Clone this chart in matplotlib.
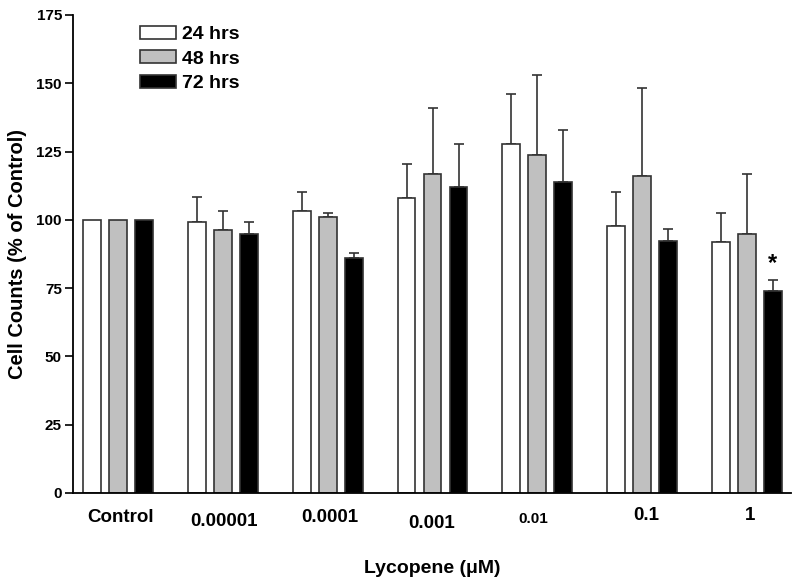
import matplotlib
matplotlib.use("Agg")
import matplotlib.pyplot as plt
from matplotlib.patches import Patch
import numpy as np

plt.rcParams['font.family'] = ['Liberation Sans', 'DejaVu Sans']
plt.rcParams['font.weight'] = 'bold'

categories = ["Control", "0.00001", "0.0001", "0.001", "0.01", "0.1", "1"]
series_names = ["24 hrs", "48 hrs", "72 hrs"]
vals_24 = [100, 99.3, 103.3, 107.9, 127.6, 97.6, 91.8]
err_24 = [0, 9.1, 6.8, 12.4, 18.6, 12.5, 10.8]
vals_48 = [100, 96.3, 101.0, 116.7, 123.9, 116.1, 94.8]
err_48 = [0, 7.0, 1.6, 24.2, 29.2, 32.1, 22.0]
vals_72 = [100, 95.0, 86.1, 112.1, 114.0, 92.2, 74.0]
err_72 = [0, 4.3, 1.8, 15.6, 18.8, 4.6, 3.9]
ytick_vals = [0, 25, 50, 75, 100, 125, 150, 175]

fills = ["white", "#c0c0c0", "black"]
W, H = 800, 581
fig = plt.figure(figsize=(W / 100, H / 100), dpi=100)
ax = fig.add_axes([73 / W, (H - 493) / H, (791 - 73) / W, (493 - 15) / H])

x = np.arange(len(categories))
width = 0.171
step = 0.248
for i, (v, e) in enumerate([(vals_24, err_24), (vals_48, err_48), (vals_72, err_72)]):
    pos = x + (i - 1) * step
    ax.bar(pos, v, width=width, color=fills[i], edgecolor="#333333", linewidth=1.2,
           label=series_names[i], zorder=2)
    ee = np.array(e, dtype=float)
    mask = ee > 0
    ax.errorbar(pos[mask], np.array(v)[mask], yerr=[np.zeros(mask.sum()), ee[mask]],
                fmt="none", ecolor="#333333", elinewidth=1.2, capsize=3.3,
                capthick=1.2, zorder=1)

# significance marker
ax.text(x[6] + step, vals_72[6] + err_72[6] + 2.0, "*", ha="center", va="bottom",
        fontsize=17, fontweight="bold")

ax.set_xlim(-0.43, 6.42)
ax.set_ylim(0, 175)
ax.set_yticks(ytick_vals)
ax.set_yticklabels([str(t) for t in ytick_vals], fontsize=11, fontweight="bold")
ax.tick_params(axis="y", direction="out", length=6, width=1.2, pad=2)
ax.set_xticks([])
for s in ["top", "right"]:
    ax.spines[s].set_visible(False)
for s in ["left", "bottom"]:
    ax.spines[s].set_linewidth(1.3)

# x category labels with individual offsets (in pixels below the axis) and sizes
lab_offsets = [25, 29, 25, 31, 26, 22, 23]
lab_sizes = [13.5, 13.5, 13.5, 13.5, 11, 13.5, 13.5]
lab_dx = [2, 1, 2, -1, -4, 4, 3]
for xi, lab, off, fs, dx in zip(x, categories, lab_offsets, lab_sizes, lab_dx):
    ax.annotate(lab, xy=(xi, 0), xycoords=("data", "axes fraction"),
                xytext=(dx * 0.72, -off * 0.72), textcoords="offset points",
                ha="center", va="center", fontsize=fs, fontweight="bold")

ax.set_xlabel("Lycopene (\u03bcM)", fontsize=14, fontweight="bold", labelpad=48)
ax.set_ylabel("Cell Counts (% of Control)", fontsize=14.5, fontweight="bold", labelpad=7)

handles = [Patch(facecolor=fills[i], edgecolor="#333333", linewidth=1.2) for i in range(3)]
leg = ax.legend(handles, series_names, loc="upper left", bbox_to_anchor=(0.094, 0.977),
                frameon=False, fontsize=14, handlelength=1.85, handleheight=0.65,
                handletextpad=0.3, labelspacing=0.36, borderaxespad=0, borderpad=0)
for t in leg.get_texts():
    t.set_fontweight("bold")

fig.savefig("out.png", dpi=100)
